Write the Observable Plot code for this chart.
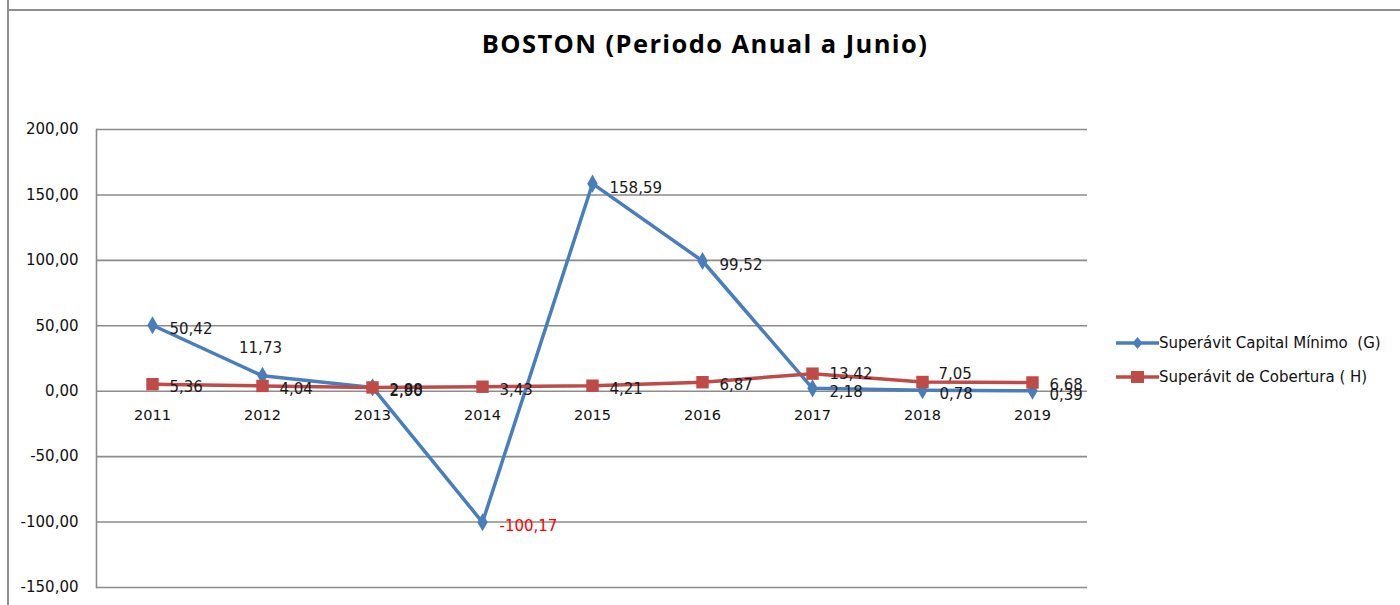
<!DOCTYPE html>
<html>
<head>
<meta charset="utf-8">
<script src="https://cdn.jsdelivr.net/npm/d3@7"></script>
<script src="https://cdn.jsdelivr.net/npm/@observablehq/plot@0.6"></script>
<style>
  html, body { margin: 0; padding: 0; background: #fff; }
  #wrap { position: relative; width: 1400px; height: 605px; overflow: hidden; font-family: "DejaVu Sans", sans-serif; }
  #frameTop { position: absolute; left: 8px; top: 9px; width: 1392px; height: 2px; background: #8e8e8e; }
  #frameLeft { position: absolute; left: 7px; top: 0; width: 2px; height: 605px; background: #8e8e8e; }
  #title { position: absolute; left: 0; width: 1410px; top: 26px; text-align: center; font-family: "Open Sans", sans-serif; font-weight: 700; font-size: 25.5px; letter-spacing: 1.4px; color: #000; line-height: 34px; }
  #chart { position: absolute; left: 0; top: 0; }
  #legend { position: absolute; left: 1114px; top: 326px; font-family: "DejaVu Sans", sans-serif; font-size: 15px; color: #111; }
  .item { display: flex; align-items: center; height: 34px; white-space: pre; }
</style>
</head>
<body>
<div id="wrap">
  <div id="frameLeft"></div>
  <div id="frameTop"></div>
  <div id="title">BOSTON (Periodo Anual a Junio)</div>
  <div id="chart"></div>
  <div id="legend"></div>
</div>
<script>
const years = ["2011","2012","2013","2014","2015","2016","2017","2018","2019"];
const capitalMinimo = [50.42, 11.73, 2.90, -100.17, 158.59, 99.52, 2.18, 0.78, 0.39];
const cobertura = [5.36, 4.04, 2.88, 3.43, 4.21, 6.87, 13.42, 7.05, 6.68];
const yTicks = [-150, -100, -50, 0, 50, 100, 150, 200];
const seriesNames = ["Superávit Capital Mínimo  (G)", "Superávit de Cobertura ( H)"];
const seriesColors = ["#4a7ebb", "#be4b48"];

const loc = d3.formatLocale({decimal: ",", thousands: ".", grouping: [3], currency: ["", ""], minus: "-"});
const fmt = loc.format(".2f");

const blue = years.map((year, i) => ({year, value: capitalMinimo[i]}));
const red = years.map((year, i) => ({year, value: cobertura[i]}));
// label placement tweaks seen in the reference
const blueAbove = new Set(["2012"]);
const redRaised = new Set(["2018"]);
const redLifted = new Set(["2017"]);

const font = "DejaVu Sans, sans-serif";
const fs = 15;
const labelFill = d => d.value < 0 ? "#ff0000" : "#1a1a1a";
const lab = d => fmt(d.value);

const plot = Plot.plot({
  width: 1400,
  height: 605,
  marginTop: 129,
  marginBottom: 18,
  marginLeft: 96,
  marginRight: 313,
  style: {fontFamily: font, fontSize: fs + "px", color: "#111", background: "transparent"},
  x: {type: "point", domain: years, padding: 0.5, axis: null},
  y: {domain: [-150, 200], axis: null},
  marks: [
    Plot.ruleY(yTicks, {stroke: "#8c8c8c", strokeWidth: 1.6}),
    Plot.frame({anchor: "left", stroke: "#8c8c8c", strokeWidth: 1.6}),
    Plot.axisY(yTicks, {tickSize: 0, tickPadding: 18, tickFormat: fmt, fontSize: fs, label: null}),
    Plot.text(years, {x: d => d, y: 0, dy: 24, text: d => d, fontSize: 14.5, fill: "#111"}),
    Plot.line(blue, {x: "year", y: "value", stroke: seriesColors[0], strokeWidth: 3.5}),
    Plot.dot(blue, {x: "year", y: "value", symbol: "diamond", fill: seriesColors[0], r: 5.5}),
    Plot.line(red, {x: "year", y: "value", stroke: seriesColors[1], strokeWidth: 3.5}),
    Plot.dot(red, {x: "year", y: "value", symbol: "square", fill: seriesColors[1], r: 7}),
    Plot.text(blue.filter(d => !blueAbove.has(d.year)), {x: "year", y: "value", text: lab, textAnchor: "start", dx: 17, dy: 4, fill: labelFill, fontSize: fs}),
    Plot.text(blue.filter(d => blueAbove.has(d.year)), {x: "year", y: "value", text: lab, textAnchor: "middle", dx: -2, dy: -28, fill: labelFill, fontSize: fs}),
    Plot.text(red.filter(d => !redRaised.has(d.year) && !redLifted.has(d.year)), {x: "year", y: "value", text: lab, textAnchor: "start", dx: 17, dy: 3, fill: labelFill, fontSize: fs}),
    Plot.text(red.filter(d => redLifted.has(d.year)), {x: "year", y: "value", text: lab, textAnchor: "start", dx: 17, dy: 1, fill: labelFill, fontSize: fs}),
    Plot.text(red.filter(d => redRaised.has(d.year)), {x: "year", y: "value", text: lab, textAnchor: "start", dx: 16, dy: -8, fill: labelFill, fontSize: fs})
  ]
});
document.getElementById("chart").appendChild(plot);

// legend
const legend = d3.select("#legend");
seriesNames.forEach((name, i) => {
  const item = legend.append("div").attr("class", "item");
  const svg = item.append("svg").attr("width", 45).attr("height", 16);
  svg.append("line").attr("x1", 2).attr("x2", 45).attr("y1", 8).attr("y2", 8)
    .attr("stroke", seriesColors[i]).attr("stroke-width", 3.5);
  if (i === 0) {
    svg.append("path").attr("d", "M23.5,2L28.5,8L23.5,14L18.5,8Z").attr("fill", seriesColors[i]);
  } else {
    svg.append("rect").attr("x", 17).attr("y", 2).attr("width", 13).attr("height", 12).attr("fill", seriesColors[i]);
  }
  item.append("span").text(name);
});
</script>
</body>
</html>
